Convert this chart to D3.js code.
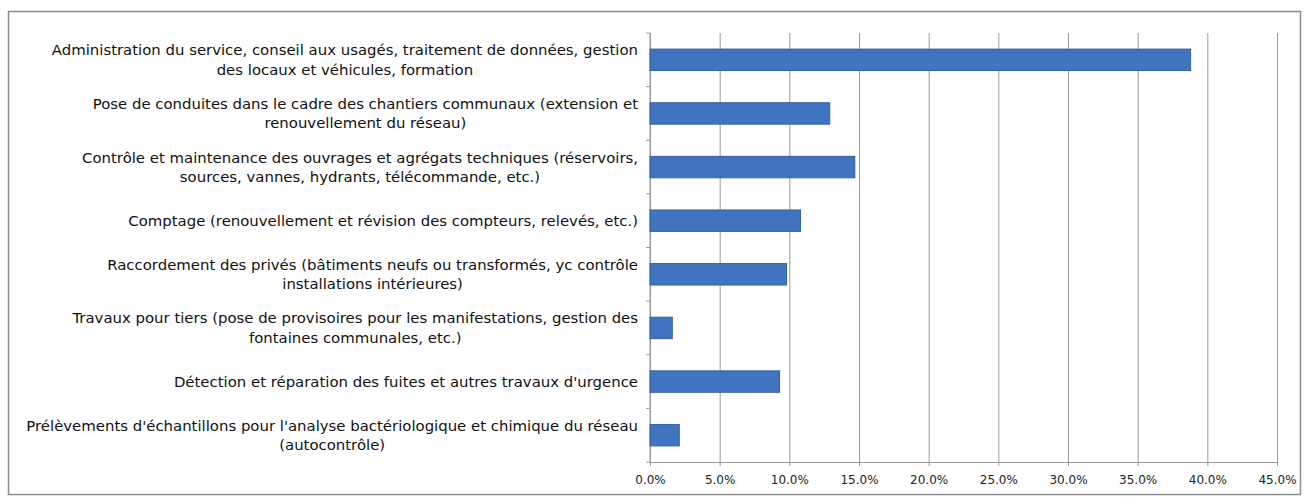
<!DOCTYPE html>
<html>
<head>
<meta charset="utf-8">
<script src="https://cdn.jsdelivr.net/npm/d3@7"></script>
<style>
  body { margin: 0; background: #fff; }
  svg { display: block; }
</style>
</head>
<body>
<svg id="chart"></svg>
<script>
// Chart data
const categories = [
  ["Administration du service, conseil aux usagés, traitement de données, gestion", "des locaux et véhicules, formation"],
  ["Pose de conduites dans le cadre des chantiers communaux (extension et", "renouvellement du réseau)"],
  ["Contrôle et maintenance des ouvrages et agrégats techniques (réservoirs,", "sources, vannes, hydrants, télécommande, etc.)"],
  ["Comptage (renouvellement et révision des compteurs, relevés, etc.)"],
  ["Raccordement des privés (bâtiments neufs ou transformés, yc contrôle", "installations intérieures)"],
  ["Travaux pour tiers (pose de provisoires pour les manifestations, gestion des", "fontaines communales, etc.)"],
  ["Détection et réparation des fuites et autres travaux d'urgence"],
  ["Prélèvements d'échantillons pour l'analyse bactériologique et chimique du réseau", "(autocontrôle)"]
];
const values = [38.8, 12.9, 14.7, 10.8, 9.8, 1.6, 9.3, 2.1];
const tickValues = [0, 5, 10, 15, 20, 25, 30, 35, 40, 45];

const width = 1309;
const height = 498;
const plot = { left: 650, right: 1277, top: 33, bottom: 462 };
const labelRight = 638;
const lineHeight = 19.5;

const svg = d3.select("#chart")
  .attr("width", width)
  .attr("height", height);

// Outer frame
svg.append("rect")
  .attr("x", 8.5)
  .attr("y", 11.5)
  .attr("width", 1292)
  .attr("height", 483)
  .attr("fill", "#fff")
  .attr("stroke", "#8c8c8c")
  .attr("stroke-width", 1.5);

const x = d3.scaleLinear()
  .domain([0, 45])
  .range([plot.left, plot.right]);

const y = d3.scaleBand()
  .domain(d3.range(categories.length))
  .range([plot.top, plot.bottom])
  .paddingInner(0.6)
  .paddingOuter(0.3);

const band = d3.scaleBand()
  .domain(d3.range(categories.length))
  .range([plot.top, plot.bottom]);

// Gridlines + bottom axis
const xAxis = d3.axisBottom(x)
  .tickValues(tickValues)
  .tickSize(-(plot.bottom - plot.top))
  .tickPadding(13)
  .tickFormat(d => d3.format(".1f")(d) + "%");

const gx = svg.append("g")
  .attr("transform", `translate(0,${plot.bottom})`)
  .call(xAxis);

gx.select(".domain").remove();
gx.selectAll(".tick line")
  .attr("stroke", "#9a9a9a")
  .attr("y2", 4)
  .attr("y1", -(plot.bottom - plot.top));
gx.selectAll(".tick text")
  .attr("fill", "#222")
  .attr("font-family", "DejaVu Sans, sans-serif")
  .attr("font-size", "12px");

// Bottom axis line
svg.append("line")
  .attr("x1", plot.left).attr("x2", plot.right)
  .attr("y1", plot.bottom + 0.5).attr("y2", plot.bottom + 0.5)
  .attr("stroke", "#9a9a9a");

// Left axis with category ticks
const gy = svg.append("g")
  .attr("transform", `translate(${plot.left},0)`);
gy.append("line")
  .attr("x1", 0).attr("x2", 0)
  .attr("y1", plot.top).attr("y2", plot.bottom)
  .attr("stroke", "#9a9a9a");
gy.selectAll(".ytick")
  .data(d3.range(categories.length + 1))
  .join("line")
  .attr("class", "ytick")
  .attr("x1", -4).attr("x2", 0)
  .attr("y1", i => plot.top + i * band.step())
  .attr("y2", i => plot.top + i * band.step())
  .attr("stroke", "#9a9a9a");

// Bars
svg.selectAll(".bar")
  .data(values)
  .join("rect")
  .attr("class", "bar")
  .attr("x", x(0))
  .attr("y", (d, i) => y(i))
  .attr("width", d => x(d) - x(0))
  .attr("height", y.bandwidth())
  .attr("fill", "#4174c0")
  .attr("stroke", "#35619f")
  .attr("stroke-width", 1);

// Category labels (centered block, right-aligned to the axis)
const labels = svg.selectAll(".label")
  .data(categories)
  .join("text")
  .attr("class", "label")
  .attr("font-family", "DejaVu Sans, sans-serif")
  .attr("font-size", "14.9px")
  .attr("fill", "#111")
  .attr("text-anchor", "middle");

labels.each(function (lines, i) {
  const t = d3.select(this);
  const cy = y(i) + y.bandwidth() / 2;
  const startY = cy - (lines.length - 1) * lineHeight / 2;
  lines.forEach((line, j) => {
    t.append("tspan")
      .attr("y", startY + j * lineHeight)
      .attr("dy", "0.35em")
      .text(line);
  });
  let maxW = 0;
  t.selectAll("tspan").each(function () {
    maxW = Math.max(maxW, this.getComputedTextLength());
  });
  t.selectAll("tspan").attr("x", labelRight - maxW / 2);
});
</script>
</body>
</html>
